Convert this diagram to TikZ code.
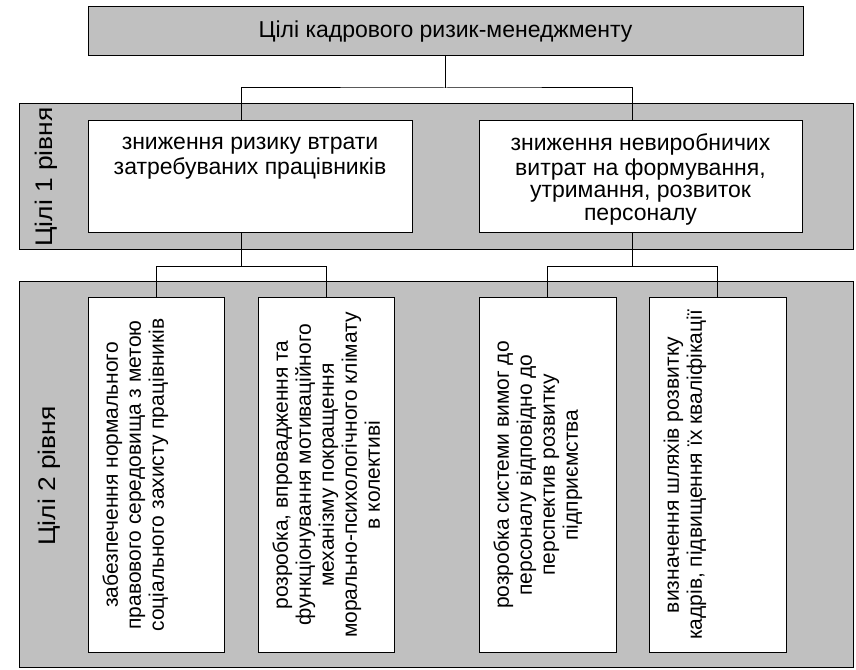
\documentclass[tikz,border=0pt]{standalone}
\usepackage{fontspec}
\setmainfont{Liberation Sans}
\definecolor{bandgray}{HTML}{C0C0C0}
\begin{document}
\begin{tikzpicture}[x=1pt,y=1pt,
  band/.style={draw=black, line width=1pt, fill=bandgray, inner sep=0pt},
  topbox/.style={draw=black, line width=1pt, fill=bandgray, inner sep=0pt, font=\fontsize{23}{23}\selectfont},
  goalbox/.style={draw=black, line width=1pt, fill=white, inner sep=0pt},
  goaltext/.style={align=center, inner sep=0pt, font=\fontsize{23}{22.7}\selectfont},
  vgoaltext/.style={align=center, inner sep=0pt, rotate=90, font=\fontsize{21}{23}\selectfont},
  levellabel/.style={rotate=90, inner sep=0pt, font=\fontsize{24}{26}\selectfont},
  link/.style={draw=black, line width=1pt}]
\useasboundingbox (0,0) rectangle (856,669);

% bands
\node[band, minimum width=834pt, minimum height=146pt] (band1) at (436,492) {};
\node[band, minimum width=834pt, minimum height=385pt] (band2) at (436,194.5) {};
\node[levellabel] (lab1) at (46,492) {\scalebox{1.1}[1]{Цілі 1 рівня}};
\node[levellabel] (lab2) at (49,193) {\scalebox{1.1}[1]{Цілі 2 рівня}};

% top
\node[topbox, minimum width=715pt, minimum height=49pt] (top) at (445.5,637.5) {Цілі кадрового ризик-менеджменту};

% level 1
\node[goalbox, minimum width=324pt, minimum height=112pt] (l1a) at (250,492) {};
\node[goalbox, minimum width=323pt, minimum height=112pt] (l1b) at (640.5,492) {};
\node[goaltext, anchor=north] (t1a) at ([yshift=-13pt]l1a.north) {зниження ризику втрати\strut\\затребуваних працівників};
\node[goaltext, anchor=north] (t1b) at ([yshift=-13pt]l1b.north) {зниження невиробничих\strut\\витрат на формування,\\утримання, розвиток\\персоналу};

% level 2
\node[goalbox, minimum width=136pt, minimum height=354pt] (l2a) at (156,194) {};
\node[goalbox, minimum width=136pt, minimum height=354pt] (l2b) at (326,194) {};
\node[goalbox, minimum width=137pt, minimum height=354pt] (l2c) at (547.5,194) {};
\node[goalbox, minimum width=137pt, minimum height=354pt] (l2d) at (717.5,194) {};
\node[vgoaltext, anchor=north] (t2a) at ([xshift=14pt]l2a.west) {забезпечення нормального\strut\\правового середовища з метою\\соціального захисту працівників};
\node[vgoaltext, anchor=north] (t2b) at ([xshift=14pt]l2b.west) {розробка, впровадження та\strut\\функціонування мотиваційного\\механізму покращення\\морально-психологічного клімату\\в колективі};
\node[vgoaltext, anchor=north] (t2c) at ([xshift=14pt]l2c.west) {розробка системи вимог до\strut\\персоналу відповідно до\\перспектив розвитку\\підприємства};
\node[vgoaltext, anchor=north] (t2d) at ([xshift=14pt]l2d.west) {визначення шляхів розвитку\strut\\кадрів, підвищення їх кваліфікації};

% connectors
\draw[link] (top.south) -- (top.south |- 0,581) coordinate (j1);
\draw[link] ([xshift=-9pt]l1a.north) |- (j1) -| ([xshift=-8.5pt]l1b.north);
\draw[link] ([xshift=-9pt]l1a.south) -- ++(0,-33) coordinate (j2);
\draw[link] (l2a.north) |- (j2) -| (l2b.north);
\draw[link] ([xshift=-8.5pt]l1b.south) -- ++(0,-33) coordinate (j3);
\draw[link] (l2c.north) |- (j3) -| (l2d.north);
\end{tikzpicture}
\end{document}
